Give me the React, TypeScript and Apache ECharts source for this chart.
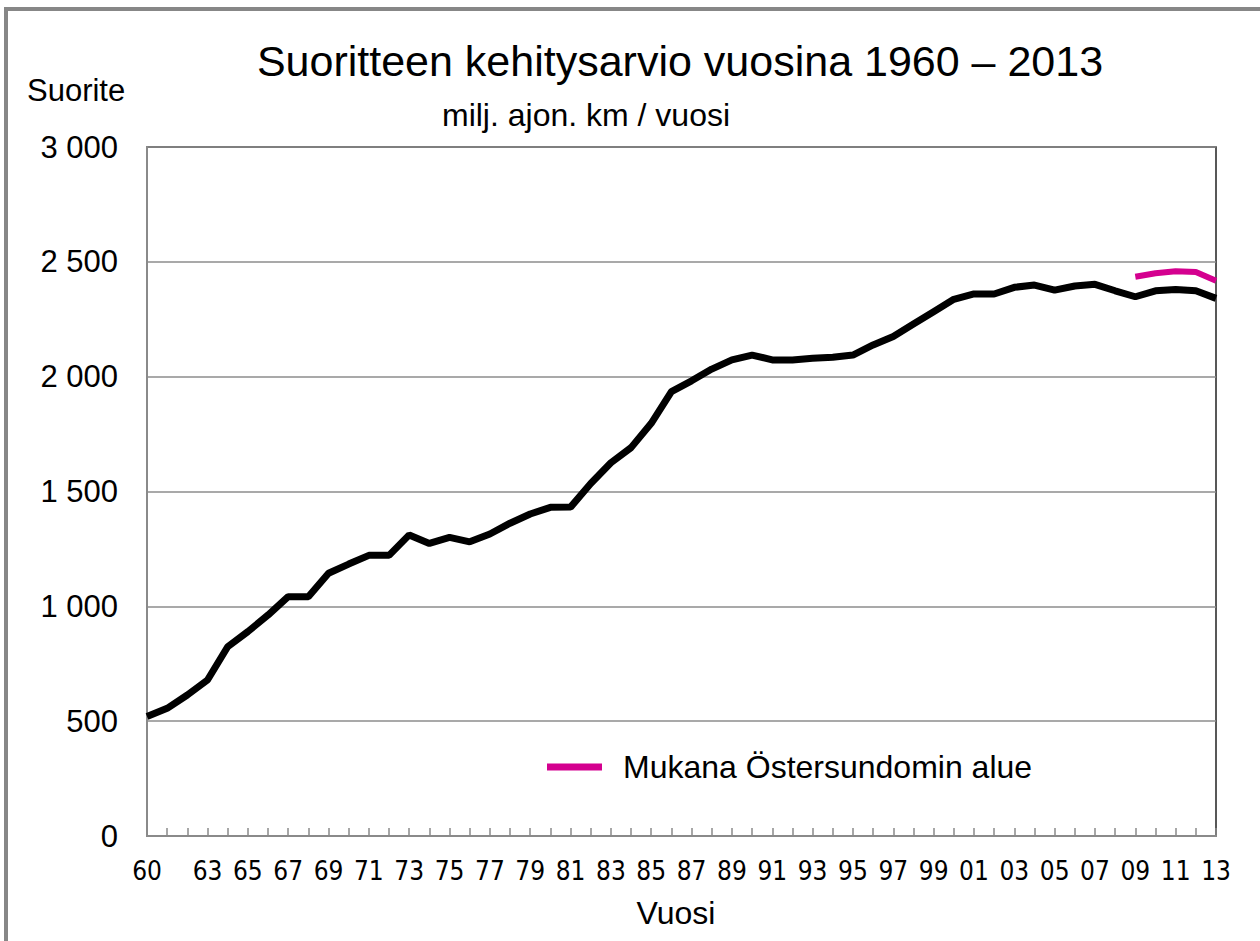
import React, { useEffect, useRef } from 'react';
import * as echarts from 'echarts';

const years = [
  '1960', '1961', '1962', '1963', '1964', '1965', '1966', '1967', '1968', '1969',
  '1970', '1971', '1972', '1973', '1974', '1975', '1976', '1977', '1978', '1979',
  '1980', '1981', '1982', '1983', '1984', '1985', '1986', '1987', '1988', '1989',
  '1990', '1991', '1992', '1993', '1994', '1995', '1996', '1997', '1998', '1999',
  '2000', '2001', '2002', '2003', '2004', '2005', '2006', '2007', '2008', '2009',
  '2010', '2011', '2012', '2013',
];

const suorite = [
  520, 556, 614, 679, 824, 890, 962, 1042, 1042, 1144,
  1184, 1222, 1222, 1311, 1274, 1300, 1281, 1315, 1362, 1402,
  1431, 1432, 1535, 1625, 1691, 1797, 1935, 1982, 2033, 2073,
  2094, 2073, 2073, 2080, 2085, 2094, 2138, 2175, 2229, 2283,
  2337, 2360, 2360, 2389, 2399, 2377, 2395, 2402, 2374, 2348,
  2374, 2380, 2374, 2341,
];

const ostersundomYears = ['2009', '2010', '2011', '2012', '2013'];
const ostersundomValues = [2435, 2450, 2459, 2456, 2418];

const yTicks = [0, 500, 1000, 1500, 2000, 2500, 3000];

const TITLE = 'Suoritteen kehitysarvio vuosina 1960 – 2013';
const SUBTITLE = 'milj. ajon. km / vuosi';
const Y_NAME = 'Suorite';
const X_NAME = 'Vuosi';
const LEGEND_NAME = 'Mukana Östersundomin alue';

const FONT = "'Liberation Sans', Arial, sans-serif";
const NARROW = "'Liberation Sans Narrow', 'Arial Narrow', 'DejaVu Sans Condensed', sans-serif";

export default function App() {
  const ref = useRef<HTMLDivElement>(null);

  useEffect(() => {
    if (!ref.current) return;
    const chart = echarts.init(ref.current, undefined, { renderer: 'svg' });
    const fmt = (v: number) => {
      const s = String(v);
      return s.length > 3 ? s.slice(0, s.length - 3) + ' ' + s.slice(-3) : s;
    };
    chart.setOption({
      animation: false,
      backgroundColor: '#ffffff',
      graphic: [
        {
          type: 'rect',
          shape: { x: 6, y: 9, width: 1320, height: 1000 },
          style: { fill: 'none', stroke: '#878787', lineWidth: 4 },
          z: 0,
        },
        {
          type: 'text',
          x: 680,
          y: 61,
          style: { text: TITLE, font: `43px ${FONT}`, fill: '#000', align: 'center', verticalAlign: 'middle' },
        },
        {
          type: 'text',
          x: 586,
          y: 115,
          style: { text: SUBTITLE, font: `32px ${FONT}`, fill: '#000', align: 'center', verticalAlign: 'middle' },
        },
        {
          type: 'text',
          x: 27,
          y: 90,
          style: { text: Y_NAME, font: `31px ${FONT}`, fill: '#000', align: 'left', verticalAlign: 'middle' },
        },
        {
          type: 'text',
          x: 676,
          y: 913,
          style: { text: X_NAME, font: `32px ${FONT}`, fill: '#000', align: 'center', verticalAlign: 'middle' },
        },
      ],
      legend: {
        data: [{ name: LEGEND_NAME, icon: 'rect' }],
        left: 547,
        top: 751,
        padding: 0,
        itemWidth: 55,
        itemHeight: 7,
        textStyle: { fontFamily: FONT, fontSize: 32, color: '#000', padding: [0, 0, 0, 16] },
      },
      grid: {
        left: 147,
        right: 44,
        top: 147,
        bottom: 105,
        show: true,
        borderColor: '#222',
        borderWidth: 1.5,
        backgroundColor: 'transparent',
      },
      xAxis: {
        type: 'category',
        data: years,
        boundaryGap: false,
        axisLine: { show: true, lineStyle: { color: '#8a8a8a', width: 2 } },
        axisTick: { show: true, inside: true, length: 8, interval: 0, lineStyle: { color: '#8a8a8a', width: 1.5 } },
        axisLabel: {
          interval: (index: number) => index === 0 || (index >= 3 && index % 2 === 1),
          formatter: (v: string) => v.slice(2),
          fontFamily: NARROW,
          fontSize: 26,
          color: '#000',
          margin: 22,
        },
        splitLine: { show: false },
      },
      yAxis: {
        type: 'value',
        min: yTicks[0],
        max: yTicks[yTicks.length - 1],
        interval: 500,
        axisLine: { show: true, lineStyle: { color: '#8a8a8a', width: 2 } },
        axisTick: { show: false },
        axisLabel: {
          formatter: (v: number) => fmt(v),
          fontFamily: FONT,
          fontSize: 31,
          color: '#000',
          margin: 29,
        },
        splitLine: { show: true, lineStyle: { color: '#8c8c8c', width: 1.5 } },
      },
      series: [
        {
          name: 'Suorite',
          type: 'line',
          data: suorite,
          symbol: 'none',
          lineStyle: { color: '#000000', width: 7 },
          itemStyle: { color: '#000000' },
          z: 3,
        },
        {
          name: LEGEND_NAME,
          type: 'line',
          data: ostersundomYears.map((y, i) => [y, ostersundomValues[i]]),
          symbol: 'none',
          lineStyle: { color: '#D4008F', width: 6 },
          itemStyle: { color: '#D4008F' },
          z: 4,
        },
      ],
    });
    return () => chart.dispose();
  }, []);

  return (
    <div
      ref={ref}
      style={{ position: 'fixed', left: 0, top: 0, width: 1260, height: 941, background: '#fff' }}
    />
  );
}
